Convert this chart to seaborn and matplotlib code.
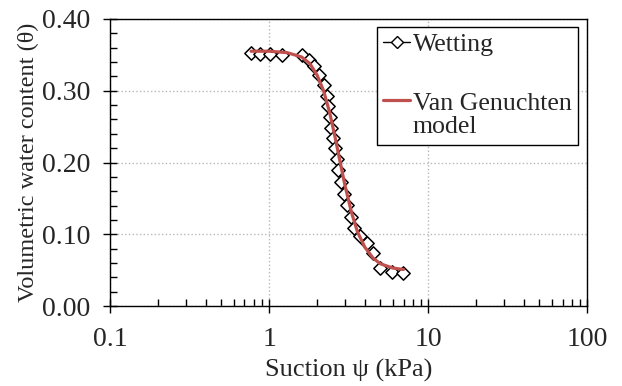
# %%
# import dependencies
import numpy as np
import pandas as pd
import seaborn as sns
import matplotlib.pyplot as plt
from matplotlib.lines import Line2D
from matplotlib.legend_handler import HandlerLine2D
from matplotlib.ticker import MultipleLocator, LogLocator, NullFormatter

# %%
# wetting points
suction = [0.77, 0.88, 1.01, 1.21, 1.61, 1.79, 1.92, 2.06, 2.22, 2.32, 2.35, 2.42,
           2.46, 2.53, 2.60, 2.68, 2.72, 2.84, 2.96, 3.10, 3.28, 3.43, 3.74, 4.13,
           4.51, 4.99, 5.94, 6.97]
theta = [0.353, 0.351, 0.351, 0.350, 0.350, 0.343, 0.334, 0.322, 0.308, 0.293, 0.279, 0.263,
         0.248, 0.234, 0.220, 0.205, 0.190, 0.173, 0.156, 0.141, 0.124, 0.109, 0.098, 0.088,
         0.074, 0.053, 0.047, 0.046]

# van genuchten curve
model_suction = [0.77, 1.0, 1.3, 1.6, 1.8, 2.0, 2.2, 2.4, 2.6, 2.8, 3.0, 3.3, 3.6,
                 4.0, 4.5, 5.0, 6.0, 7.0]
model_theta = [0.355, 0.355, 0.353, 0.347, 0.338, 0.322, 0.300, 0.270, 0.235, 0.200,
               0.168, 0.130, 0.103, 0.082, 0.067, 0.059, 0.053, 0.051]

xTicks = [0.1, 1, 10, 100]
xTickLabels = ['0.1', '1', '10', '100']
yTicks = [0.0, 0.1, 0.2, 0.3, 0.4]
yTickLabels = ['0.00', '0.10', '0.20', '0.30', '0.40']

wetDf = pd.DataFrame({'suction': suction, 'theta': theta})
modelDf = pd.DataFrame({'suction': model_suction, 'theta': model_theta})

redColor = '#C0504D'


# %%
# legend handle for the model line sits on the first text line
class UpperLine(HandlerLine2D):
    def create_artists(self, legend, orig_handle, xdescent, ydescent, width, height, fontsize, trans):
        arts = super().create_artists(legend, orig_handle, xdescent, ydescent, width, height, fontsize, trans)
        for a in arts:
            a.set_ydata(np.asarray(a.get_ydata()) + 0.58 * fontsize)
        return arts


# %%
sns.set_theme(style='white')
plt.rcParams['font.family'] = ['Liberation Serif', 'DejaVu Serif']

fig, ax = plt.subplots(figsize=(6.22, 3.86), dpi=100)
fig.subplots_adjust(left=0.177, right=0.944, bottom=0.207, top=0.951)

sns.scatterplot(data=wetDf, x='suction', y='theta', marker='D', s=46, color='white',
                edgecolor='black', linewidth=1.1, ax=ax, zorder=2)
sns.lineplot(data=modelDf, x='suction', y='theta', color=redColor, linewidth=2.3,
             sort=False, ax=ax, zorder=3)

ax.set_xscale('log')
ax.set_xlim(0.1, 100)
ax.set_ylim(0, 0.4)
ax.set_xticks(xTicks)
ax.set_xticklabels(xTickLabels)
ax.set_yticks(yTicks)
ax.set_yticklabels(yTickLabels)
ax.xaxis.set_minor_locator(LogLocator(base=10, subs=np.arange(2, 10)))
ax.xaxis.set_minor_formatter(NullFormatter())
ax.yaxis.set_minor_locator(MultipleLocator(0.02))

ax.tick_params(which='both', bottom=True, left=True, top=False, right=False, color='black')
ax.tick_params(which='major', direction='inout', length=10, width=1, labelsize=20)
ax.tick_params(which='minor', direction='in', length=5, width=1)
ax.tick_params(axis='x', which='major', pad=10)
ax.tick_params(axis='y', which='major', pad=9)

ax.grid(True, which='major', color='#b8b8b8', linestyle=':', linewidth=1)
for sp in ax.spines.values():
    sp.set_color('black')
    sp.set_linewidth(1)

ax.set_xlabel('Suction ψ (kPa)', fontsize=19, labelpad=5)
ax.set_ylabel('Volumetric water content (θ)', fontsize=17.5, labelpad=2)

# %%
wetHandle = Line2D([], [], color='black', linewidth=1, marker='D', markersize=6.5,
                   markerfacecolor='white', markeredgecolor='black')
vgHandle = Line2D([], [], color=redColor, linewidth=2.3)
leg = ax.legend([wetHandle, vgHandle], ['Wetting', 'Van Genuchten\nmodel'],
                handler_map={vgHandle: UpperLine()}, loc='upper right',
                bbox_to_anchor=(0.981, 0.972), borderaxespad=0, fancybox=False,
                edgecolor='black', framealpha=1, fontsize=18.6, handlelength=1.05,
                handletextpad=0.1, labelspacing=1.4, borderpad=0.25)
leg.get_frame().set_linewidth(1)
leg.get_texts()[1].set_linespacing(1.1)

plt.savefig('out.png', dpi=100)
